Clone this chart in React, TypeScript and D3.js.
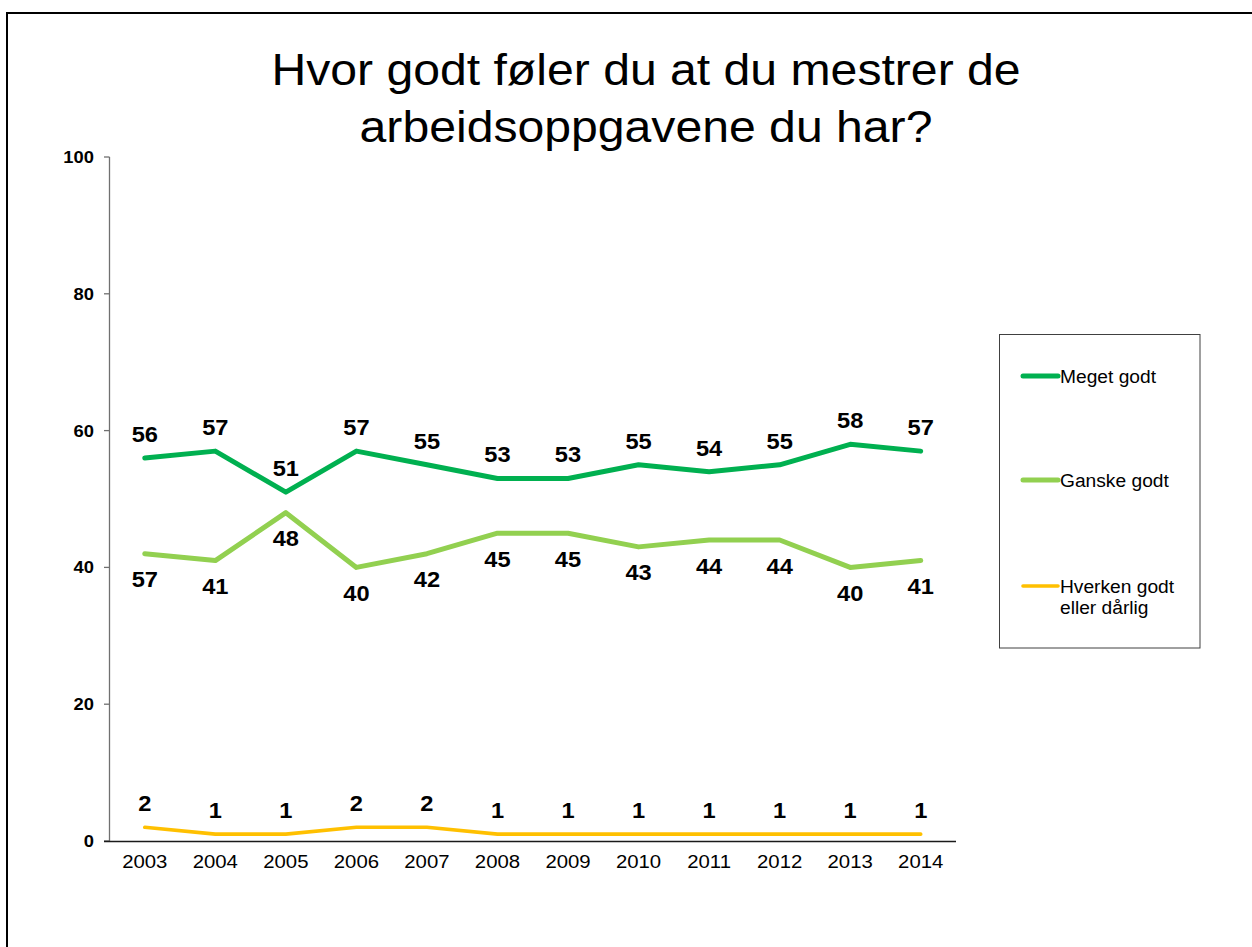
import React from "react";
import * as d3 from "d3";

const years = ["2003","2004","2005","2006","2007","2008","2009","2010","2011","2012","2013","2014"];
const meget = [56,57,51,57,55,53,53,55,54,55,58,57];
const ganske = [42,41,48,40,42,45,45,43,44,44,40,41];
const ganskeLabels = ["57","41","48","40","42","45","45","43","44","44","40","41"];
const hverken = [2,1,1,2,2,1,1,1,1,1,1,1];
const yTicks = [0,20,40,60,80,100];
const titleLines = ["Hvor godt føler du at du mestrer de", "arbeidsoppgavene du har?"];

const series = [
  { name: ["Meget godt"], values: meget, labels: meget.map(String), color: "#00B050", width: 5, labelOffset: -16, legendY: 376 },
  { name: ["Ganske godt"], values: ganske, labels: ganskeLabels, color: "#92D050", width: 5, labelOffset: 33.5, legendY: 480 },
  { name: ["Hverken godt", "eller dårlig"], values: hverken, labels: hverken.map(String), color: "#FFC000", width: 3.6, labelOffset: -16, legendY: 586 },
];

const FONT = "'Liberation Sans', Arial, sans-serif";

function T({ x, y, sx = 1, size, weight = "normal", anchor = "middle", children }: any) {
  return (
    <text
      transform={`translate(${x},${y}) scale(${sx},1)`}
      textAnchor={anchor}
      fontSize={size}
      fontWeight={weight}
      fontFamily={FONT}
      fill="#000"
    >
      {children}
    </text>
  );
}

export default function App() {
  const W = 1252, H = 947;
  const x = d3.scalePoint<string>().domain(years).range([109.5, 956]).padding(0.5);
  const y = d3.scaleLinear().domain([0, 100]).range([841, 157]);
  const line = d3.line<number>().x((_, i) => x(years[i]) as number).y((d) => y(d));

  return (
    <svg width={W} height={H} style={{ position: "absolute", left: 0, top: 0, background: "#fff" }}>
      <rect x={0} y={0} width={W} height={H} fill="#fff" />
      <rect x={7} y={13} width={1400} height={1100} fill="none" stroke="#000" strokeWidth={2} />

      {titleLines.map((t, i) => (
        <T key={i} x={646} y={85 + i * 57} sx={1.07} size={45}>{t}</T>
      ))}

      {/* y axis */}
      <line x1={109.5} x2={109.5} y1={y(100)} y2={y(0)} stroke="#707070" strokeWidth={1.3} />
      {yTicks.map((t) => (
        <g key={t}>
          <line x1={104} x2={109.5} y1={y(t)} y2={y(t)} stroke="#707070" strokeWidth={1.3} />
          <T x={94} y={y(t) + 6} sx={1.08} size={17} weight="bold" anchor="end">{t}</T>
        </g>
      ))}

      {/* x axis */}
      <line x1={104} x2={956} y1={y(0) + 0.5} y2={y(0) + 0.5} stroke="#1a1a1a" strokeWidth={1.3} />
      {years.map((yr) => (
        <T key={yr} x={x(yr)} y={867.5} sx={1.1} size={18.5}>{yr}</T>
      ))}

      {/* lines */}
      {series.map((s, si) => (
        <path key={si} d={line(s.values) as string} fill="none" stroke={s.color} strokeWidth={s.width} strokeLinejoin="round" strokeLinecap="round" />
      ))}

      {/* data labels */}
      {series.map((s, si) =>
        s.values.map((v, i) => (
          <T key={`${si}-${i}`} x={x(years[i])} y={y(v) + s.labelOffset} sx={1.1} size={21.5} weight="bold">
            {s.labels[i]}
          </T>
        ))
      )}

      {/* legend */}
      <rect x={999.5} y={334.5} width={200.5} height={313.5} fill="none" stroke="#404040" strokeWidth={1} />
      {series.map((s, si) => (
        <g key={si}>
          <line x1={1023} x2={1058} y1={s.legendY} y2={s.legendY} stroke={s.color} strokeWidth={s.width} strokeLinecap="round" />
          {s.name.map((n, j) => (
            <T key={j} x={1060} y={s.legendY + 7 + j * 21} size={19.2} anchor="start">{n}</T>
          ))}
        </g>
      ))}
    </svg>
  );
}
